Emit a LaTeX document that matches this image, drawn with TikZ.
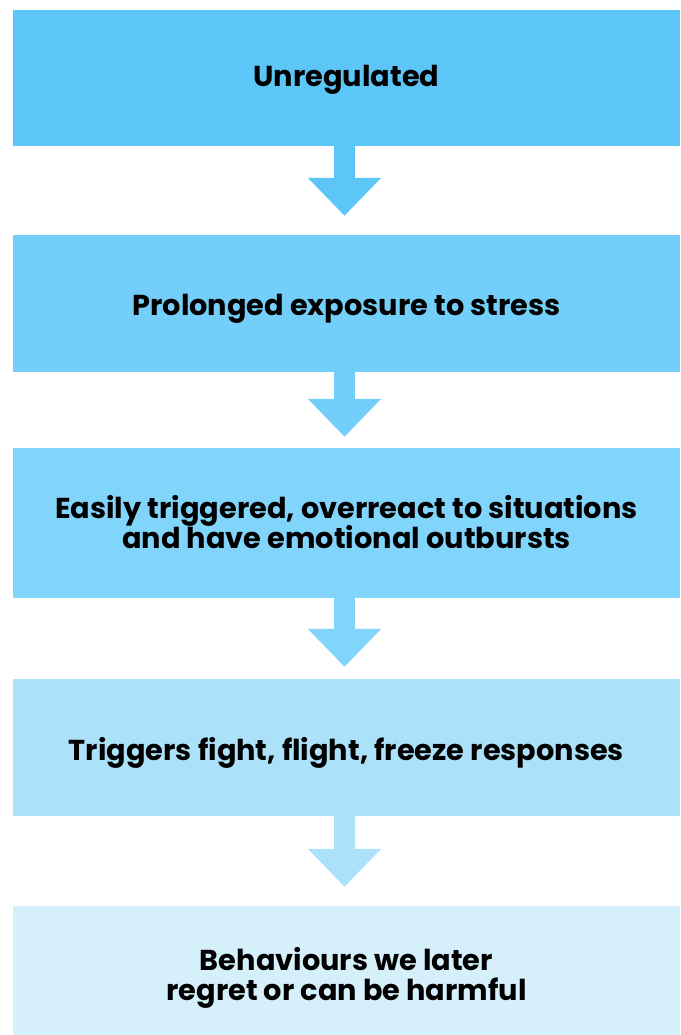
\documentclass[tikz,border=0pt]{standalone}
\usepackage{fontspec}
\setmainfont{Poppins}
\usetikzlibrary{arrows.meta}
\definecolor{tone1}{HTML}{5BC6F7}
\definecolor{tone2}{HTML}{73CFF9}
\definecolor{tone3}{HTML}{81D4FA}
\definecolor{tone4}{HTML}{ACE2F9}
\definecolor{tone5}{HTML}{D5F0FB}
\newcommand{\stagefont}{\fontsize{28.8}{30}\selectfont\bfseries\setlength{\lineskiplimit}{-30pt}}

\begin{document}
\begin{tikzpicture}[x=1pt,y=-1pt,
	stage/.style={fill=#1, minimum width=667pt, inner sep=0pt},
	caption/.style={inner sep=0pt, align=center, font=\stagefont},
	flow/.style={draw=#1, line width=21pt, -{Triangle[width=71pt,length=38pt]}}]
	\useasboundingbox (0,0) rectangle (680,1035);

	\node[stage=tone1, minimum height=136pt] (s1) at (346.5,78) {};
	\node[stage=tone2, minimum height=137pt] (s2) at (346.5,303.5) {};
	\node[stage=tone3, minimum height=150pt] (s3) at (346.5,523) {};
	\node[stage=tone4, minimum height=137pt] (s4) at (346.5,747.5) {};
	\node[stage=tone5, minimum height=129pt] (s5) at (346.5,970.5) {};

	\node[caption] (c1) at (346.5,80) {Unregulated};
	\node[caption] (c2) at (346.5,309.1) {Prolonged exposure to stress};
	\node[caption] (c3) at (346.5,522) {Easily triggered, overreact to situations\\and have emotional outbursts};
	\node[caption] (c4) at (346.5,753.4) {Triggers fight, flight, freeze responses};
	\node[caption] (c5) at (346.5,978) {Behaviours we later\\regret or can be harmful};

	\foreach \i / \j / \s in {1/2/19pt, 2/3/11pt, 3/4/12pt, 4/5/19pt}
	{
		\draw[flow=tone\i, shorten >=\s] ([xshift=-2pt]s\i.south) -- ([xshift=-2pt]s\j.north);
	};
\end{tikzpicture}
\end{document}
